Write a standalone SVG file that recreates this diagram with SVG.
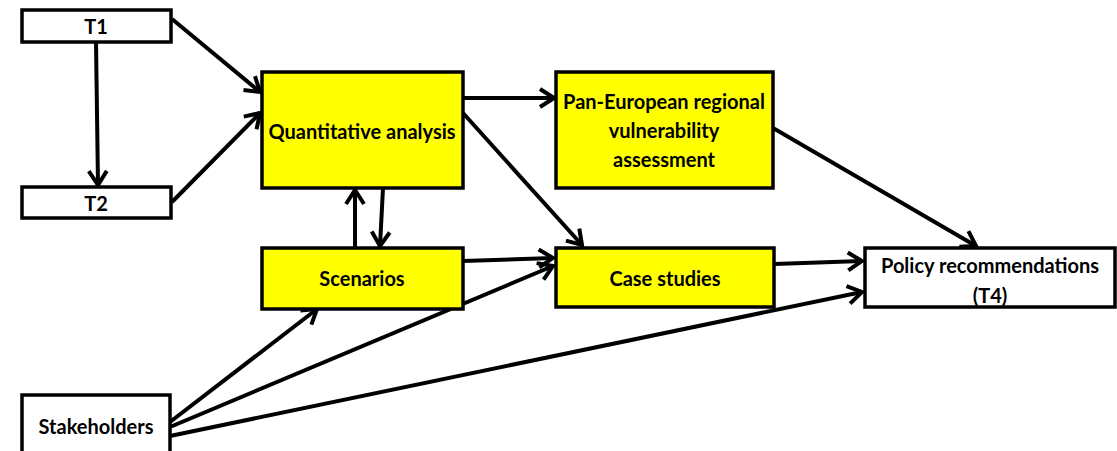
<svg xmlns="http://www.w3.org/2000/svg" width="1117" height="451" viewBox="0 0 1117 451">
<style>
.box{stroke:#000;stroke-width:3.5}
.y{fill:#ffff00}
.w{fill:#fff}
text{font-family:Lato,"Open Sans","Liberation Sans",sans-serif;font-weight:bold;font-size:20px;fill:#000;text-anchor:middle}
.c line{stroke:#000;stroke-width:4;marker-end:url(#ah)}
</style>
<defs>
<marker id="ah" markerUnits="userSpaceOnUse" viewBox="-17 -12 20 24" refX="0" refY="0" markerWidth="20" markerHeight="24" orient="auto">
<path d="M-14,-9 L0,0 L-14,9" fill="none" stroke="#000" stroke-width="4" stroke-linejoin="miter"/>
</marker>
</defs>
<rect width="1117" height="451" fill="#fff"/>
<g class="c" id="connectors">
<line x1="96" y1="42" x2="98" y2="185"/>
<line x1="172" y1="19" x2="260" y2="92"/>
<line x1="172" y1="202" x2="260" y2="113"/>
<line x1="463" y1="98" x2="554" y2="98"/>
<line x1="463" y1="113" x2="582" y2="245"/>
<line x1="355" y1="248" x2="355" y2="190"/>
<line x1="383" y1="188" x2="380" y2="246"/>
<line x1="463" y1="261" x2="553" y2="258"/>
<line x1="170" y1="422" x2="317" y2="309"/>
<line x1="170" y1="427" x2="553" y2="266"/>
<line x1="170" y1="436" x2="862" y2="292"/>
<line x1="774" y1="264" x2="862" y2="261"/>
<line x1="773" y1="128" x2="976" y2="246"/>
</g>
<g id="t1"><rect class="box w" x="22" y="10" width="149" height="32"/><text x="96" y="34">T1</text></g>
<g id="t2"><rect class="box w" x="22" y="187" width="149" height="31"/><text x="96" y="211">T2</text></g>
<g id="quant"><rect class="box y" x="262" y="72" width="201" height="116"/><text x="362" y="139">Quantitative analysis</text></g>
<g id="pan"><rect class="box y" x="556" y="72" width="217" height="116"/><text x="664" y="109">Pan-European regional</text><text x="664" y="138">vulnerability</text><text x="664" y="167">assessment</text></g>
<g id="scen"><rect class="box y" x="262" y="248" width="201" height="61"/><text x="362" y="286">Scenarios</text></g>
<g id="case"><rect class="box y" x="556" y="248" width="218" height="59"/><text x="665" y="286">Case studies</text></g>
<g id="policy"><rect class="box w" x="865" y="248" width="250" height="59"/><text x="990" y="273">Policy recommendations</text><text x="990" y="303">(T4)</text></g>
<g id="stake"><rect class="box w" x="22" y="395" width="148" height="60"/><text x="96" y="434">Stakeholders</text></g>
</svg>
